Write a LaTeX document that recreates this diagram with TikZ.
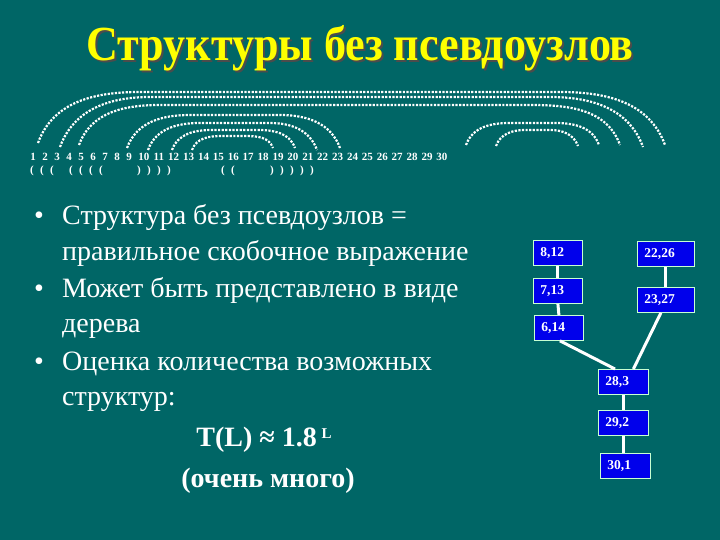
\documentclass[tikz,border=0pt]{standalone}
\usepackage{fontspec}
\setmainfont{Liberation Serif}
\usetikzlibrary{calc}

\definecolor{slidebg}{RGB}{0,102,102}
\definecolor{boxblue}{RGB}{0,0,235}
\definecolor{boxrim}{RGB}{200,255,210}
\definecolor{titleyellow}{RGB}{255,255,0}

\tikzset{
  dotarc/.style={draw=white, line width=2.2pt, dash pattern=on 2.2pt off 1.4pt},
  bodytext/.style={text=white, anchor=base west, inner sep=0pt, font=\fontsize{28}{32}\selectfont},
  boldtext/.style={text=white, anchor=base, inner sep=0pt, font=\fontsize{28}{32}\selectfont\bfseries},
  numtext/.style={text=white, anchor=base, inner sep=0pt, font=\fontsize{11}{12}\selectfont\bfseries},
  pairbox/.style={draw=boxrim, line width=0.8pt, fill=boxblue, text=white, anchor=north west,
    minimum height=25pt, inner xsep=7pt, inner ysep=0pt, align=left,
    font=\fontsize{13.5}{14}\selectfont\bfseries},
  treeline/.style={draw=white, line width=3pt}
}

\begin{document}
\begin{tikzpicture}[x=1pt,y=-1pt]
  \useasboundingbox (0,0) rectangle (720,540);
  \fill[slidebg] (0,0) rectangle (720,540);

  % Title with shadow
  \node[text=black!70, font=\fontsize{49}{52}\selectfont\bfseries, inner sep=0pt, xscale=0.9] (titleshadow) at (362,50) {Структуры без псевдоузлов};
  \node[text=titleyellow, font=\fontsize{49}{52}\selectfont\bfseries, inner sep=0pt, xscale=0.9] (title) at (360,48) {Структуры без псевдоузлов};

  % Pairing arcs
  \draw[dotarc] (38,143) to[out=70,in=180] (140,92) -- (560,92) to[out=0,in=110] (665,145);
  \draw[dotarc] (60,147) to[out=70,in=180] (150,97) -- (550,97) to[out=0,in=110] (643,147);
  \draw[dotarc] (79,145) to[out=70,in=180] (160,105) -- (530,105) to[out=0,in=110] (620,145);
  \draw[dotarc] (127,148) to[out=70,in=180] (190,115) -- (280,115) to[out=0,in=110] (340,148);
  \draw[dotarc] (148,150) to[out=70,in=180] (200,123) -- (270,123) to[out=0,in=110] (317,150);
  \draw[dotarc] (172,150) to[out=70,in=180] (212,130) -- (258,130) to[out=0,in=110] (295,148);
  \draw[dotarc] (192,150) to[out=70,in=180] (222,136) -- (245,136) to[out=0,in=110] (273,148);
  \draw[dotarc] (466,145) to[out=70,in=180] (510,123) -- (555,123) to[out=0,in=110] (599,145);
  \draw[dotarc] (496,146) to[out=70,in=180] (525,130) -- (550,130) to[out=0,in=110] (578,146);

  % Positions 1..30
  \foreach \n in {1,...,8} {
    \node[numtext] (n\n) at ({33+12*(\n-1)},161) {\n};
  }
  \foreach \n in {9,...,30} {
    \node[numtext] (n\n) at ({129+14.9*(\n-9)},161) {\n};
  }
  % Brackets
  \foreach \x/\c [count=\i] in {32/(,42/(,52/(,71/(,81/(,91/(,101/(,139/),149/),159/),169/),
      223/(,233/(,272/),282/),292/),302/),312/)} {
    \node[numtext] (p\i) at (\x,174) {\c};
  }

  % Bullet list
  \node[bodytext] (u1) at (34,225) {•};
  \node[bodytext] (u2) at (34,297) {•};
  \node[bodytext] (u3) at (34,370) {•};
  \node[bodytext] (t1) at (62,225) {Структура без псевдоузлов =};
  \node[bodytext] (t2) at (62,260) {правильное скобочное выражение};
  \node[bodytext] (t3) at (62,297) {Может быть представлено в виде};
  \node[bodytext] (t4) at (62,332) {дерева};
  \node[bodytext] (t5) at (62,370) {Оценка количества возможных};
  \node[bodytext] (t6) at (62,405) {структур:};
  \node[boldtext] (t7) at (264,446)
    {T(L) ≈ 1.8\,\raisebox{8pt}{\fontsize{15}{16}\selectfont L}};
  \node[boldtext] (t8) at (268,487) {(очень много)};

  % Tree of helices
  \node[pairbox, text width=35pt] (b812) at (533,240) {8,12};
  \node[pairbox, text width=35pt] (b713) at (533,278) {7,13};
  \node[pairbox, text width=35pt] (b614) at (534,315) {6,14};
  \node[pairbox, text width=43pt] (b2226) at (637,241) {22,26};
  \node[pairbox, text width=43pt] (b2327) at (637,287) {23,27};
  \node[pairbox, text width=36pt] (b283) at (598,369) {28,3};
  \node[pairbox, text width=36pt] (b292) at (598,410) {29,2};
  \node[pairbox, text width=36pt] (b301) at (600,453) {30,1};

  \draw[treeline] (b812.south) -- (b713.north);
  \draw[treeline] (b713.south) -- (b614.north);
  \draw[treeline] (b2226.south) -- (b2327.north);
  \draw[treeline] ([xshift=1pt]b614.south) -- ([xshift=17pt]b283.north west);
  \draw[treeline] ([xshift=-5pt]b2327.south) -- ([xshift=10pt]b283.north);
  \draw[treeline] (b283.south) -- (b292.north);
  \draw[treeline] (b292.south) -- ([xshift=-2pt]b301.north);
\end{tikzpicture}
\end{document}
